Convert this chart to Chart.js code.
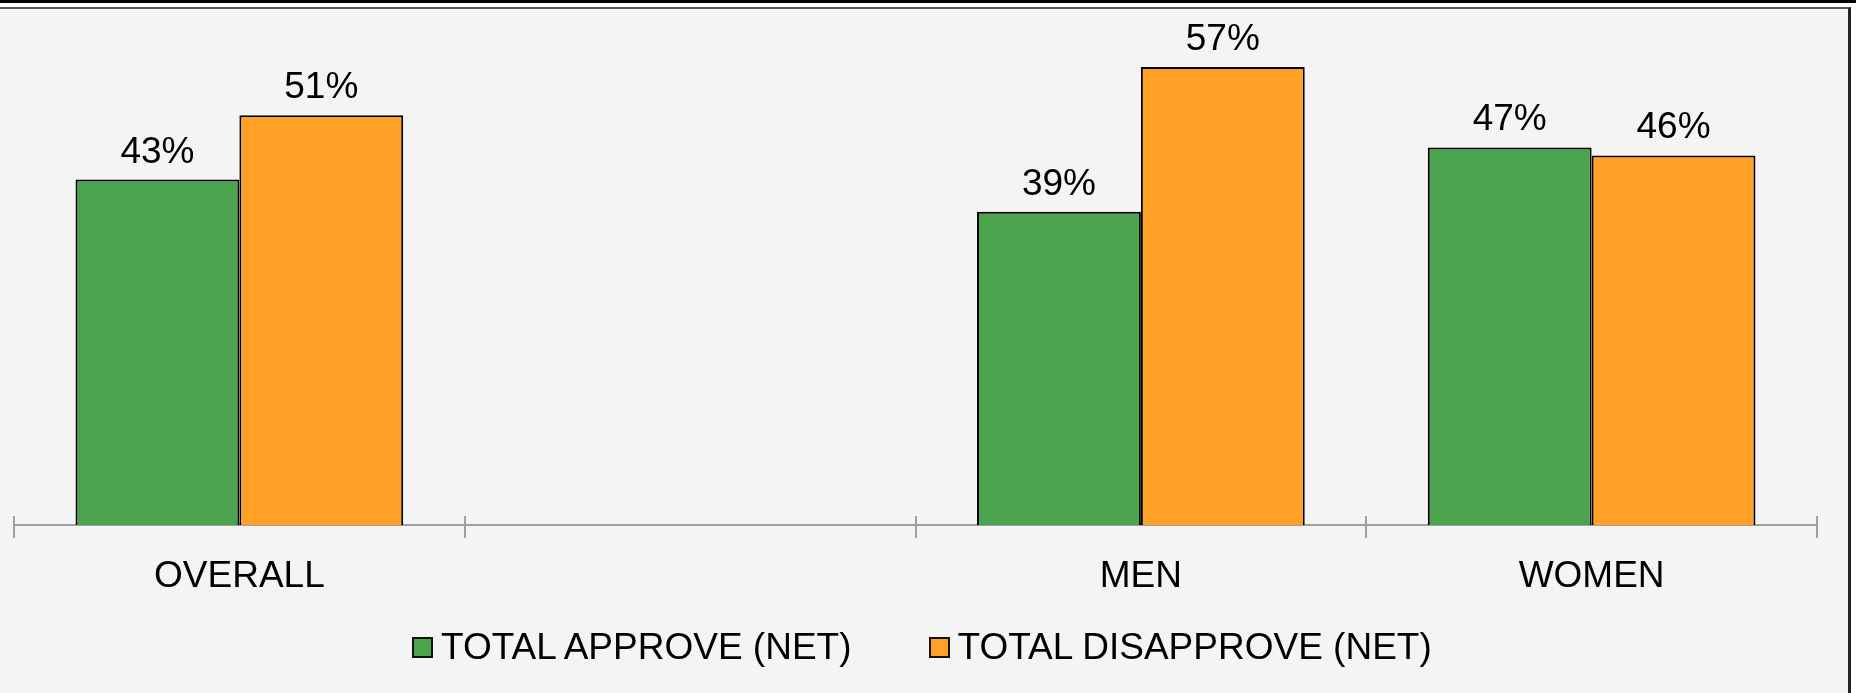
<!DOCTYPE html>
<html>
<head>
<meta charset="utf-8">
<script src="https://cdn.jsdelivr.net/npm/chart.js@4.4.1/dist/chart.umd.min.js"></script>
<style>
  html, body { margin: 0; padding: 0; background: #ffffff; overflow: hidden; }
  #wrap { position: relative; width: 1856px; height: 693px; }
  #topline { position: absolute; left: -10px; top: 0; width: 1870px; height: 3px; background: #000; }
  #frame {
    position: absolute; left: -4px; top: 7px; width: 1855px; height: 700px;
    background: #f4f4f4; border-top: 2px solid #555; border-right: 3px solid #222;
    box-sizing: border-box;
  }
  canvas { position: absolute; left: 0; top: 0; }
  #legend {
    position: absolute; left: 412px; top: 625px; height: 44px;
    display: flex; align-items: center;
    font-family: "Liberation Sans", Arial, sans-serif; font-size: 37px; line-height: 44px; color: #000;
  }
  #legend .item { display: flex; align-items: center; margin-right: 77px; white-space: nowrap; }
  #legend .box { width: 21px; height: 21px; box-sizing: border-box; border: 2px solid #111; margin-right: 8px; }
</style>
</head>
<body>
<div id="wrap">
  <div id="topline"></div>
  <div id="frame"></div>
  <canvas id="BarChart" width="1856" height="693"></canvas>
  <div id="legend"></div>
</div>
<script>
// chart data
const categories = ['OVERALL', '', 'MEN', 'WOMEN'];
const approveValues = [43, null, 39, 47];
const disapproveValues = [51, null, 57, 46];
const seriesNames = ['TOTAL APPROVE (NET)', 'TOTAL DISAPPROVE (NET)'];

const FONT = '"Liberation Sans", Arial, sans-serif';

// value labels above each bar
const valueLabels = {
  id: 'valueLabels',
  afterDatasetsDraw(chart) {
    const ctx = chart.ctx;
    ctx.save();
    ctx.font = '37px ' + FONT;
    ctx.fillStyle = '#000';
    ctx.textAlign = 'center';
    ctx.textBaseline = 'alphabetic';
    chart.data.datasets.forEach((ds, i) => {
      chart.getDatasetMeta(i).data.forEach((bar, j) => {
        if (ds.data[j] == null) return;
        ctx.fillText(ds.data[j] + '%', bar.x, bar.y - 17);
      });
    });
    ctx.restore();
  }
};

// tick marks on category boundaries, crossing the axis line
const boundaryTicks = {
  id: 'boundaryTicks',
  afterDraw(chart) {
    const x = chart.scales.x;
    const ctx = chart.ctx;
    const step = x.width / categories.length;
    ctx.save();
    ctx.strokeStyle = '#a0a0a0';
    ctx.lineWidth = 2;
    for (let i = 0; i <= categories.length; i++) {
      const px = Math.round(x.left + i * step);
      ctx.beginPath();
      ctx.moveTo(px, x.top - 9);
      ctx.lineTo(px, x.top + 13);
      ctx.stroke();
    }
    ctx.restore();
  }
};

// html legend, built from the chart's own legend items
const htmlLegend = {
  id: 'htmlLegend',
  afterUpdate(chart) {
    const box = document.getElementById('legend');
    box.innerHTML = '';
    const items = chart.options.plugins.legend.labels.generateLabels(chart);
    items.forEach(item => {
      const el = document.createElement('div');
      el.className = 'item';
      const sw = document.createElement('span');
      sw.className = 'box';
      sw.style.background = item.fillStyle;
      const txt = document.createElement('span');
      txt.textContent = item.text;
      el.appendChild(sw);
      el.appendChild(txt);
      box.appendChild(el);
    });
  }
};

const ctx = document.getElementById('BarChart').getContext('2d');
new Chart(ctx, {
  type: 'bar',
  data: {
    labels: categories,
    datasets: [{
      label: seriesNames[0],
      data: approveValues,
      backgroundColor: '#4ca34e',
      borderColor: '#000',
      borderWidth: 2
    }, {
      label: seriesNames[1],
      data: disapproveValues,
      backgroundColor: '#ffa126',
      borderColor: '#000',
      borderWidth: 2
    }]
  },
  options: {
    responsive: false,
    animation: false,
    layout: { padding: { left: 14, right: 39, top: 43, bottom: 73 } },
    datasets: { bar: { categoryPercentage: 0.727, barPercentage: 1.0 } },
    scales: {
      y: { display: false, min: 0, max: 60 },
      x: {
        grid: { display: true, drawOnChartArea: false, drawTicks: false },
        border: { display: true, color: '#a0a0a0', width: 2 },
        ticks: { color: '#000', padding: 30, font: { family: FONT, size: 37, lineHeight: 1.2 } },
        afterFit(scale) { scale.height = 95; }
      }
    },
    plugins: {
      tooltip: { enabled: false },
      legend: { display: false }
    }
  },
  plugins: [valueLabels, boundaryTicks, htmlLegend]
});
</script>
</body>
</html>
